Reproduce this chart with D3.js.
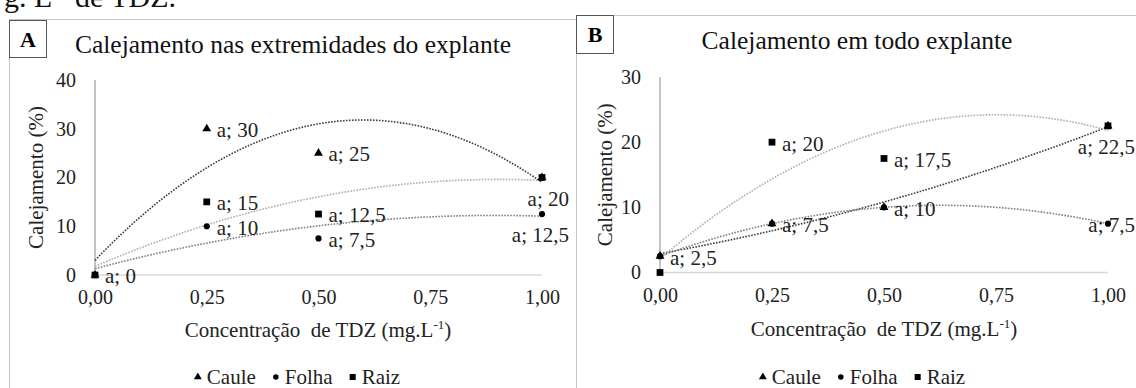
<!DOCTYPE html>
<html>
<head>
<meta charset="utf-8">
<script src="https://cdn.jsdelivr.net/npm/d3@7"></script>
<style>
  body { margin: 0; background: #fff; }
</style>
</head>
<body>
<div id="chart"></div>
<script>
// doses of TDZ (x values) and tick labels
var doses = [0, 0.25, 0.5, 1];
var xTicks = [0, 0.25, 0.5, 0.75, 1];
var seriesNames = ["Caule", "Folha", "Raiz"];

// panel A - calejamento nas extremidades
var cauleA = [0, 30, 25, 20];
var folhaA = [0, 10, 7.5, 12.5];
var raizA = [0, 15, 12.5, 20];
var yTicksA = [0, 10, 20, 30, 40];

// panel B - calejamento em todo explante
var cauleB = [2.5, 7.5, 10, 22.5];
var folhaB = [2.5, 7.5, 10, 7.5];
var raizB = [0, 20, 17.5, 22.5];
var yTicksB = [0, 10, 20, 30];

// statistical letter shown before each value
var letter = "a";

// where each point label sits (r = right, b = below, c = on marker, null = none)
var labelPosA = { Caule: ["r", "r", "r", "b"], Folha: ["r", "r", "r", "b"], Raiz: ["r", "r", "r", "b"] };
var labelPosB = { Caule: ["r", "r", "r", "b"], Folha: [null, "r", "r", "c"], Raiz: [null, "r", "r", "b"] };

var lineColor = { Caule: "#3c3c3c", Folha: "#7f7f7f", Raiz: "#adadad" };
var symbolType = { Caule: d3.symbolTriangle, Folha: d3.symbolCircle, Raiz: d3.symbolSquare };
var symbolSize = { Caule: 34, Folha: 30, Raiz: 46 };

var serif = "'Liberation Serif', 'Times New Roman', serif";
var width = 1136, height = 388;

var svg = d3.select("#chart").append("svg")
  .attr("width", width)
  .attr("height", height)
  .style("display", "block")
  .attr("font-family", serif);

svg.append("rect").attr("width", width).attr("height", height).attr("fill", "#fff");

// caption text cut at the top of the page
var cap = svg.append("text")
  .attr("x", 176).attr("y", 7)
  .attr("text-anchor", "end")
  .style("font-size", "30px")
  .attr("fill", "#111");
cap.append("tspan").text("g. L");
cap.append("tspan").attr("dy", -10).style("font-size", "18px").text("-1");
cap.append("tspan").attr("dy", 10).text(" de TDZ.");

// least squares fit of a 2nd order polynomial (Excel trendline)
function polyfit2(xs, ys) {
  var s = [0, 0, 0, 0, 0], t = [0, 0, 0];
  xs.forEach(function(x, i) {
    for (var k = 0; k < 5; k++) s[k] += Math.pow(x, k);
    for (var k = 0; k < 3; k++) t[k] += Math.pow(x, k) * ys[i];
  });
  var m = [[s[0], s[1], s[2], t[0]], [s[1], s[2], s[3], t[1]], [s[2], s[3], s[4], t[2]]];
  for (var c = 0; c < 3; c++) {
    for (var r = c + 1; r < 3; r++) {
      var f = m[r][c] / m[c][c];
      for (var k = c; k < 4; k++) m[r][k] -= f * m[c][k];
    }
  }
  var coef = [0, 0, 0];
  for (var r = 2; r >= 0; r--) {
    var v = m[r][3];
    for (var k = r + 1; k < 3; k++) v -= m[r][k] * coef[k];
    coef[r] = v / m[r][r];
  }
  return function(x) { return coef[0] + coef[1] * x + coef[2] * x * x; };
}

function fmt(v) { return letter + "; " + String(v).replace(".", ","); }

function drawPanel(p) {
  var g = svg.append("g");

  // frame (top + left border)
  g.append("path")
    .attr("d", "M" + p.frame[0] + "," + height + "V" + p.frame[1] + "H" + p.frame[2])
    .attr("fill", "none").attr("stroke", "#c6c6c6").attr("stroke-width", 1);

  // letter box
  g.append("rect")
    .attr("x", p.box[0] + 0.5).attr("y", p.box[1] + 0.5)
    .attr("width", p.box[2]).attr("height", p.box[3])
    .attr("fill", "#fff").attr("stroke", "#555").attr("stroke-width", 1);
  g.append("text")
    .attr("x", p.box[0] + p.box[2] / 2 + 0.5).attr("y", p.box[1] + p.box[3] / 2 + 8)
    .attr("text-anchor", "middle")
    .style("font-size", "22px").style("font-weight", "bold")
    .text(p.letter);

  g.append("text")
    .attr("x", p.titleX).attr("y", p.titleY)
    .attr("text-anchor", "middle")
    .style("font-size", "25.5px")
    .attr("fill", "#111")
    .text(p.title);

  var x = d3.scaleLinear().domain([0, 1]).range([p.x0, p.x1]);
  var y = d3.scaleLinear().domain([0, p.yTicks[p.yTicks.length - 1]]).range([p.y0, p.yTop]);

  // horizontal axis line
  g.append("line")
    .attr("x1", p.x0).attr("x2", p.x1)
    .attr("y1", p.y0).attr("y2", p.y0)
    .attr("stroke", "#d9d9d9").attr("stroke-width", 1.5);

  var xAxis = d3.axisBottom(x).tickValues(xTicks).tickSize(0).tickPadding(15)
    .tickFormat(function(d) { return d3.format(".2f")(d).replace(".", ","); });
  var gx = g.append("g").attr("transform", "translate(0," + p.y0 + ")").call(xAxis);
  gx.attr("font-family", serif).attr("font-size", null);
  gx.select(".domain").remove();
  gx.selectAll("text").style("font-size", "20px").attr("fill", "#222");

  var yAxis = d3.axisLeft(y).tickValues(p.yTicks).tickSize(0).tickPadding(19);
  var gy = g.append("g").attr("transform", "translate(" + p.x0 + ",0)").call(yAxis);
  gy.attr("font-family", serif).attr("font-size", null);
  gy.select(".domain").remove();
  gy.selectAll("text").style("font-size", "20px").attr("fill", "#222");

  // vertical axis line
  g.append("line")
    .attr("x1", p.x0).attr("x2", p.x0)
    .attr("y1", p.yTop).attr("y2", p.y0)
    .attr("stroke", "#8a8a8a").attr("stroke-width", 1);

  // axis titles
  g.append("text")
    .attr("transform", "translate(" + p.yTitleX + "," + ((p.y0 + p.yTop) / 2) + ") rotate(-90)")
    .attr("text-anchor", "middle")
    .attr("dy", "0.35em")
    .style("font-size", "21px")
    .attr("fill", "#222")
    .text("Calejamento (%)");

  var xt = g.append("text")
    .attr("x", p.xTitleX).attr("y", p.xTitleY)
    .attr("text-anchor", "middle")
    .style("font-size", "21px")
    .style("white-space", "pre")
    .attr("fill", "#222");
  xt.append("tspan").text("Concentração  de TDZ (mg.L");
  xt.append("tspan").attr("dy", -8).style("font-size", "13px").text("-1");
  xt.append("tspan").attr("dy", 8).text(")");

  // trendlines
  var line = d3.line().x(function(d) { return x(d[0]); }).y(function(d) { return y(d[1]); });
  p.series.forEach(function(s) {
    var f = polyfit2(doses, s.values);
    var pts = d3.range(0, 101).map(function(i) { return [i / 100, f(i / 100)]; });
    g.append("path")
      .datum(pts)
      .attr("d", line)
      .attr("fill", "none")
      .attr("stroke", lineColor[s.name])
      .attr("stroke-width", 1.6)
      .attr("stroke-dasharray", "1.6,1.4");
  });

  // markers
  p.series.forEach(function(s) {
    g.selectAll(".m-" + s.name)
      .data(s.values)
      .enter().append("path")
      .attr("d", d3.symbol().type(symbolType[s.name]).size(symbolSize[s.name]))
      .attr("transform", function(d, i) { return "translate(" + x(doses[i]) + "," + y(d) + ")"; })
      .attr("fill", "#000");
  });

  // point labels (identical labels at the same spot are drawn once)
  var seen = {};
  var labels = [];
  p.series.forEach(function(s) {
    s.values.forEach(function(v, i) {
      var pos = p.labelPos[s.name][i];
      var key = doses[i] + "|" + v + "|" + pos;
      if (pos && !seen[key]) {
        seen[key] = true;
        labels.push({ x: doses[i], y: v, pos: pos });
      }
    });
  });
  g.selectAll(".lbl")
    .data(labels)
    .enter().append("text")
    .attr("class", "lbl")
    .style("font-size", "21px")
    .attr("fill", "#222")
    .attr("dy", "0.35em")
    .attr("text-anchor", function(d) { return d.pos === "r" ? "start" : "end"; })
    .attr("x", function(d) {
      if (d.pos === "r") return x(d.x) + 10;
      return x(d.x) + 27;
    })
    .attr("y", function(d) { return y(d.y) + (d.pos === "b" ? 21 : 1); })
    .text(function(d) { return fmt(d.y); });

  // legend
  var lg = g.append("g");
  var cursor = 0;
  seriesNames.forEach(function(name) {
    lg.append("path")
      .attr("d", d3.symbol().type(symbolType[name]).size(symbolSize[name] * 0.8))
      .attr("transform", "translate(" + (cursor + 4) + ",0)")
      .attr("fill", "#000");
    var t = lg.append("text")
      .attr("x", cursor + 13).attr("dy", "0.35em")
      .style("font-size", "21px")
      .attr("fill", "#222")
      .text(name);
    cursor += 13 + t.node().getComputedTextLength() + 16;
  });
  cursor -= 16;
  lg.attr("transform", "translate(" + (p.legendX - cursor / 2) + "," + p.legendY + ")");
}

drawPanel({
  letter: "A",
  title: "Calejamento nas extremidades do explante",
  frame: [9.5, 19.5, 576],
  box: [9, 20, 37, 37],
  titleX: 293, titleY: 53,
  x0: 95, x1: 542, y0: 275, yTop: 80,
  yTicks: yTicksA,
  yTitleX: 36,
  xTitleX: 318, xTitleY: 337,
  legendX: 297, legendY: 377,
  labelPos: labelPosA,
  series: [
    { name: "Caule", values: cauleA },
    { name: "Folha", values: folhaA },
    { name: "Raiz", values: raizA }
  ]
});

drawPanel({
  letter: "B",
  title: "Calejamento em todo explante",
  frame: [576.5, 15.5, 1136],
  box: [576, 15, 37, 38],
  titleX: 857, titleY: 49,
  x0: 660, x1: 1108, y0: 272.5, yTop: 77,
  yTicks: yTicksB,
  yTitleX: 605,
  xTitleX: 884, xTitleY: 336,
  legendX: 862, legendY: 377,
  labelPos: labelPosB,
  series: [
    { name: "Caule", values: cauleB },
    { name: "Folha", values: folhaB },
    { name: "Raiz", values: raizB }
  ]
});
</script>
</body>
</html>
